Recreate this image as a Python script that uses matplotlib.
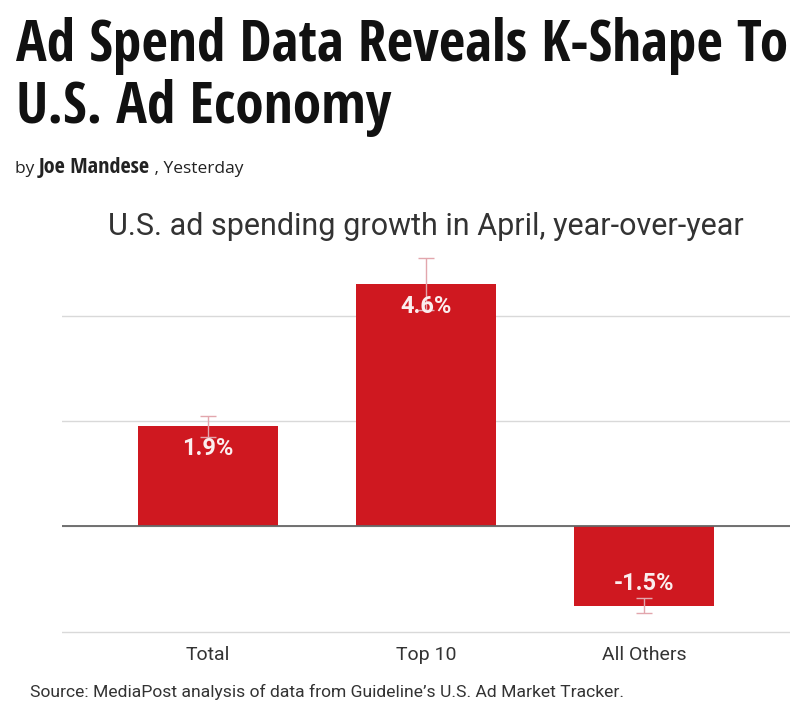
import matplotlib
matplotlib.use('Agg')
import matplotlib.pyplot as plt
from matplotlib import font_manager

# data
categories = ['Total', 'Top 10', 'All Others']
growth = [1.9, 4.6, -1.5]
err = [0.2, 0.5, 0.15]
bar_labels = ['1.9%', '4.6%', '-1.5%']
gridlines = [-2, 0, 2, 4]

RED = '#cf1820'
W, H = 800, 712

installed = {f.name for f in font_manager.fontManager.ttflist}
def pick(cands):
    for c in cands:
        if c in installed:
            return c
    return 'DejaVu Sans'

head_font = pick(['Open Sans Condensed', 'Liberation Sans Narrow', 'Roboto Condensed', 'Open Sans'])
by_font = pick(['Open Sans'])
chart_font = pick(['Roboto', 'Liberation Sans'])

fig = plt.figure(figsize=(W / 100, H / 100), dpi=100)
fig.patch.set_facecolor('white')

def fy(py):
    return 1 - py / H

# headline
t1 = fig.text(16 / W, fy(61), 'Ad Spend Data Reveals K-Shape To', family=head_font,
              weight='bold', size=44, va='baseline', ha='left', color='#111111')
fig.canvas.draw()
r = fig.canvas.get_renderer()
w1 = t1.get_window_extent(r).width
hs = 44 * (772 / w1)
t1.set_size(hs)
fig.text(16 / W, fy(123), 'U.S. Ad Economy', family=head_font, weight='bold',
         size=hs, va='baseline', ha='left', color='#111111')

# byline
x0 = 15
for txt, fam, wt, sz in [('by ', by_font, 'normal', 12.5), ('Joe Mandese', head_font, 'bold', 16),
                         (' , Yesterday', by_font, 'normal', 12.5)]:
    t = fig.text(x0 / W, fy(173), txt, family=fam, weight=wt, size=sz,
                 va='baseline', ha='left', color='#222222')
    fig.canvas.draw()
    x0 = t.get_window_extent(r).x1

# chart title
fig.text(426 / W, fy(235), 'U.S. ad spending growth in April, year-over-year',
         family=chart_font, size=22, va='baseline', ha='center', color='#333333')

ax = fig.add_axes([62 / W, fy(634), 728 / W, (634 - 247) / H])
x = range(len(categories))
ax.set_axisbelow(True)
ax.bar(x, growth, width=0.64, color=RED, zorder=2)
ax.errorbar(x, growth, yerr=err, fmt='none', ecolor='#e2a6ad', elinewidth=1,
            capsize=6, capthick=1, zorder=3)
for xi, v, lab in zip(x, growth, bar_labels):
    off = -16 if v > 0 else 16
    ax.annotate(lab, (xi, v), xytext=(0, off), textcoords='offset points',
                ha='center', va='center', color='#fbeeee', weight='bold',
                size=17, family=chart_font, zorder=4)

ax.set_xlim(-0.67, 2.67)
ax.set_ylim(-2.04, 5.3)
ax.set_yticks(gridlines)
ax.yaxis.grid(True, color='#d9d9d9', lw=1)
ax.axhline(0, color='#666666', lw=1.3, zorder=2.5)
ax.set_yticklabels([])
ax.tick_params(length=0, axis='both')
ax.set_xticks(list(x), categories, family=chart_font, size=14, color='#333333')
ax.tick_params(axis='x', pad=9)
for s in ax.spines.values():
    s.set_visible(False)

fig.text(30 / W, fy(692), "Source: MediaPost analysis of data from Guideline\u2019s U.S. Ad Market Tracker.",
         family=chart_font, size=12.6, va='center', ha='left', color='#333333')

fig.savefig('out.png', dpi=100, facecolor='white')
